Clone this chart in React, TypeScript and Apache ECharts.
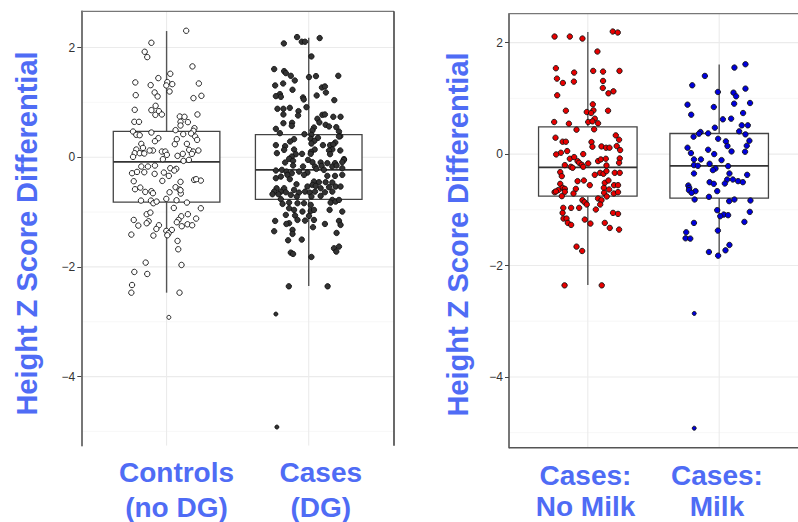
import React, { useEffect, useRef } from "react";
import * as echarts from "echarts";

// ---------- DATA ----------
// boxes: [category, lowerWhisker, Q1, median, Q3, upperWhisker]
const leftBoxes = [
  [1, -2.47, -0.82, -0.086, 0.47, 2.3],
  [2, -2.35, -0.77, -0.23, 0.41, 2.18],
];
const rightBoxes = [
  [1, -2.35, -0.755, -0.24, 0.49, 2.19],
  [2, -1.82, -0.79, -0.21, 0.37, 1.61],
];
const yTicks = [-4, -2, 0, 2];
const yMinor = [-5, -3, -1, 1];
const categories = [1, 2];
const leftLabels = ["Controls\n(no DG)", "Cases\n(DG)"];
const rightLabels = ["Cases:\nNo Milk", "Cases:\nMilk"];
const yTitle = "Height Z Score Differential";

// jittered points: [jitter offset from category, value]
const controlsPts = [
  [0.138, 2.305], [-0.107, 2.086], [-0.154, 1.922], [-0.136, 1.825], [0.182, 1.655], [0.026, 1.521],
  [-0.058, 1.442], [-0.22, 1.363], [0.005, 1.369], [0.04, 1.332], [-0.002, 1.308], [-0.112, 1.314],
  [0.227, 1.344], [0.021, 1.198], [-0.084, 1.18], [-0.063, 1.107], [-0.217, 1.131], [0.245, 1.119],
  [0.189, 1.077], [-0.077, 0.937], [-0.224, 0.864], [-0.107, 0.858], [-0.054, 0.839], [-0.079, 0.772],
  [-0.033, 0.779], [0.217, 0.779], [0.093, 0.742], [0.126, 0.736], [-0.227, 0.645], [-0.194, 0.645],
  [0.098, 0.645], [0.15, 0.639], [0.098, 0.578], [0.196, 0.529], [0.063, 0.493], [-0.236, 0.468],
  [-0.107, 0.45], [0.189, 0.481], [-0.213, 0.408], [-0.189, 0.401], [0.117, 0.42], [0.173, 0.432],
  [0.201, 0.377], [0.215, 0.316], [-0.058, 0.347], [-0.082, 0.292], [0.072, 0.328], [0.058, 0.237],
  [0.143, 0.243], [-0.178, 0.243], [-0.166, 0.17], [-0.213, 0.14], [-0.096, 0.122], [-0.119, 0.122],
  [-0.033, 0.103], [-0.009, 0.103], [0.159, 0.134], [0.187, 0.103], [0.224, 0.122], [-0.224, 0.073],
  [-0.189, 0.073], [-0.157, 0.067], [0.114, 0.061], [0.178, 0.061], [0.002, 0.043], [-0.236, 0.006],
  [0.077, 0.024], [-0.026, -0.036], [0.119, -0.067], [0.157, -0.049], [-0.131, -0.17], [-0.178, -0.17],
  [-0.082, -0.152], [0.026, -0.201], [0.068, -0.213], [-0.243, -0.292], [-0.208, -0.268], [-0.157, -0.274],
  [-0.084, -0.304], [-0.019, -0.28], [0.016, -0.341], [0.054, -0.243], [-0.231, -0.438], [-0.03, -0.432],
  [0.098, -0.45], [0.194, -0.414], [0.241, -0.426], [0.208, -0.401], [-0.185, -0.554], [-0.222, -0.584],
  [0.063, -0.547], [0.091, -0.59], [-0.15, -0.633], [-0.107, -0.62], [-0.096, -0.657], [0.021, -0.639],
  [0.1, -0.663], [0.098, -0.602], [-0.18, -0.791], [-0.11, -0.791], [-0.093, -0.839], [-0.07, -0.809],
  [-0.002, -0.76], [0.07, -0.785], [0.143, -0.827], [0.051, -0.925], [0.241, -0.931], [-0.14, -1.04],
  [-0.114, -1.01], [0.103, -1.077], [0.15, -1.04], [0.208, -1.119], [-0.231, -1.144], [-0.126, -1.168],
  [0.084, -1.144], [0.072, -1.186], [-0.14, -1.204], [-0.199, -1.247], [-0.054, -1.241], [0.147, -1.223],
  [0.18, -1.241], [0.107, -1.259], [-0.072, -1.308], [-0.002, -1.344], [0.037, -1.326], [0.014, -1.387],
  [0.005, -1.423], [-0.248, -1.411], [-0.093, -1.429], [0.077, -1.527], [0.082, -1.679], [-0.147, -1.922],
  [0.105, -1.965], [-0.227, -2.092], [-0.136, -2.129], [-0.243, -2.33], [-0.248, -2.47], [0.091, -2.47],
];
const controlsLow = [[0.016, -2.92]];

const casesDGPts = [
  [-0.082, 2.19], [0.077, 2.172], [-0.049, 2.105], [-0.026, 2.105], [-0.175, 2.074], [0.019, 1.837],
  [-0.243, 1.606], [-0.173, 1.569], [-0.161, 1.533], [-0.126, 1.484], [0.002, 1.46], [0.051, 1.478],
  [0.208, 1.484], [-0.098, 1.399], [-0.18, 1.344], [-0.236, 1.308], [0.093, 1.271], [0.114, 1.29],
  [-0.114, 1.229], [0.121, 1.18], [-0.203, 1.15], [-0.231, 1.113], [-0.196, 1.101], [0.056, 1.125],
  [-0.04, 1.089], [-0.035, 1.052], [0.18, 1.04], [-0.016, 0.912], [-0.22, 0.882], [-0.178, 0.882],
  [-0.133, 0.9], [-0.072, 0.839], [-0.178, 0.779], [-0.075, 0.76], [0.096, 0.772], [0.114, 0.779],
  [0.173, 0.736], [0.224, 0.736], [0.061, 0.7], [-0.178, 0.62], [-0.117, 0.627], [-0.119, 0.572],
  [0.075, 0.633], [0.119, 0.59], [0.143, 0.56], [0.194, 0.547], [0.037, 0.541], [-0.231, 0.517],
  [0.026, 0.487], [0.213, 0.468], [-0.203, 0.438], [-0.03, 0.42], [0.019, 0.408], [0.222, 0.383],
  [0.213, 0.377], [0.065, 0.353], [0.014, 0.335], [-0.103, 0.328], [-0.131, 0.286], [0.04, 0.298],
  [0.187, 0.268], [0.019, 0.249], [-0.231, 0.219], [-0.166, 0.201], [0.1, 0.219], [0.15, 0.219],
  [0.173, 0.231], [0.166, 0.14], [-0.173, 0.134], [-0.103, 0.14], [0.042, 0.14], [0.222, 0.122],
  [0.143, 0.122], [0.016, 0.097], [-0.224, 0.073], [-0.091, 0.055], [-0.047, 0.061], [0.014, 0.061],
  [0.15, 0.055], [-0.119, 0.012], [0.248, -0.036], [-0.138, -0.03], [-0.005, -0.049], [0.248, -0.049],
  [-0.166, -0.097], [-0.11, -0.067], [0.026, -0.091], [0.084, -0.097], [0.131, -0.109], [0.185, -0.109],
  [0.236, -0.091], [-0.11, -0.152], [-0.04, -0.17], [0.044, -0.17], [0.091, -0.158], [0.166, -0.17],
  [0.196, -0.152], [-0.231, -0.243], [-0.189, -0.231], [-0.157, -0.262], [-0.119, -0.292], [-0.068, -0.262],
  [-0.009, -0.28], [0.054, -0.213], [0.107, -0.231], [0.236, -0.201], [-0.15, -0.322], [-0.196, -0.353],
  [-0.033, -0.322], [0.131, -0.341], [0.185, -0.341], [0.236, -0.322], [-0.133, -0.401], [-0.231, -0.383],
  [0.037, -0.444], [0.072, -0.456], [0.119, -0.456], [0.166, -0.462], [-0.086, -0.493], [0.026, -0.505],
  [-0.226, -0.566], [-0.173, -0.566], [-0.009, -0.535], [0.049, -0.523], [0.084, -0.566], [0.143, -0.547],
  [0.189, -0.535], [0.224, -0.535], [-0.243, -0.627], [-0.196, -0.627], [-0.161, -0.639], [-0.103, -0.596],
  [-0.068, -0.645], [-0.026, -0.627], [0.007, -0.645], [0.044, -0.627], [0.114, -0.639], [0.166, -0.627],
  [-0.255, -0.675], [-0.213, -0.675], [-0.126, -0.687], [-0.084, -0.718], [0.019, -0.718], [0.084, -0.706],
  [-0.196, -0.766], [0.166, -0.779], [0.154, -0.827], [0.189, -0.809], [0.213, -0.779], [-0.184, -0.852],
  [-0.138, -0.827], [-0.079, -0.839], [-0.033, -0.839], [0.014, -0.87], [-0.138, -0.931], [-0.103, -0.961],
  [0.147, -0.961], [0.014, -0.979], [-0.044, -0.991], [0.037, -0.961], [-0.161, -1.052], [-0.096, -1.064],
  [0.002, -1.071], [0.236, -0.991], [-0.079, -1.144], [-0.026, -1.156], [0.037, -1.144], [-0.236, -1.162],
  [-0.138, -1.204], [0.213, -1.162], [-0.157, -1.217], [0.114, -1.217], [0.224, -1.235], [0.03, -1.277],
  [-0.114, -1.326], [-0.243, -1.35], [-0.114, -1.399], [0.196, -1.381], [-0.145, -1.515], [-0.049, -1.502],
  [0.178, -1.661], [0.213, -1.63], [0.194, -1.721], [-0.126, -1.74], [-0.11, -1.764], [0.019, -1.819],
  [-0.14, -2.354], [0.133, -2.354],
];
const casesDGLow = [[-0.231, -2.86], [-0.224, -4.92]];

const noMilkPts = [
  [-0.253, 2.11], [-0.137, 2.11], [-0.041, 2.074], [0.19, 2.2], [0.228, 2.182], [0.073, 1.841],
  [-0.243, 1.541], [-0.104, 1.463], [0.041, 1.493], [0.116, 1.481], [0.241, 1.493], [-0.235, 1.355],
  [-0.19, 1.277], [-0.106, 1.301], [0.116, 1.313], [0.114, 1.187], [0.195, 1.127], [0.157, 1.091],
  [-0.233, 1.055], [0.038, 0.893], [-0.167, 0.779], [0.043, 0.785], [0.154, 0.779], [-0.008, 0.755],
  [0.025, 0.737], [0.053, 0.636], [-0.256, 0.576], [-0.144, 0.546], [0.003, 0.576], [0.035, 0.588],
  [0.078, 0.552], [-0.086, 0.438], [0.048, 0.444], [-0.246, 0.294], [0.213, 0.336], [0.238, 0.258],
  [-0.192, 0.222], [-0.167, 0.222], [0.028, 0.216], [0.035, 0.132], [0.104, 0.138], [0.139, 0.114],
  [0.165, 0.114], [0.22, 0.144], [-0.157, 0.054], [-0.205, 0.024], [0.246, 0.072], [-0.241, -0.006],
  [-0.035, 0.0], [-0.137, -0.084], [-0.104, -0.054], [-0.078, -0.126], [-0.066, -0.156], [0.078, -0.126],
  [0.099, -0.096], [0.137, -0.084], [0.243, -0.078], [0.238, -0.156], [0.003, -0.168], [-0.175, -0.198],
  [-0.129, -0.228], [-0.116, -0.246], [-0.046, -0.192], [-0.035, -0.228], [0.142, -0.204], [-0.21, -0.324],
  [-0.198, -0.396], [0.053, -0.372], [0.094, -0.336], [0.119, -0.354], [0.142, -0.306], [0.205, -0.336],
  [0.243, -0.336], [-0.03, -0.474], [-0.078, -0.486], [0.015, -0.558], [0.129, -0.516], [0.157, -0.474],
  [-0.21, -0.534], [-0.192, -0.606], [-0.175, -0.624], [-0.225, -0.647], [-0.253, -0.683], [-0.243, -0.671],
  [-0.091, -0.624], [0.2, -0.558], [0.23, -0.558], [0.122, -0.606], [0.162, -0.635], [-0.175, -0.677],
  [-0.109, -0.707], [-0.198, -0.755], [0.124, -0.695], [0.198, -0.707], [0.23, -0.683], [0.144, -0.761],
  [0.078, -0.797], [0.104, -0.827], [-0.041, -0.827], [-0.025, -0.863], [-0.008, -0.905], [0.094, -0.905],
  [-0.187, -0.965], [-0.127, -0.965], [-0.066, -0.965], [0.061, -0.995], [-0.192, -1.055], [0.192, -1.055],
  [0.23, -1.073], [-0.185, -1.157], [-0.162, -1.157], [-0.023, -1.175], [-0.152, -1.235], [-0.127, -1.271],
  [0.02, -1.247], [0.129, -1.235], [0.167, -1.325], [0.238, -1.355], [-0.086, -1.661], [-0.043, -1.739],
  [-0.177, -2.356], [0.106, -2.356],
];

const milkPts = [
  [0.2, 1.613], [0.116, 1.553], [-0.109, 1.403], [-0.205, 1.235], [0.2, 1.175], [-0.01, 1.115],
  [0.109, 1.103], [0.129, 1.037], [-0.241, 0.887], [0.235, 0.917], [0.114, 0.905], [-0.041, 0.845],
  [-0.213, 0.707], [0.182, 0.737], [0.028, 0.624], [0.091, 0.636], [0.172, 0.516], [0.218, 0.516],
  [-0.033, 0.474], [0.152, 0.408], [-0.142, 0.396], [-0.154, 0.366], [-0.084, 0.372], [0.2, 0.354],
  [-0.195, 0.312], [-0.008, 0.276], [0.051, 0.228], [0.23, 0.24], [0.063, 0.144], [0.21, 0.15],
  [-0.241, 0.114], [-0.084, 0.078], [0.094, 0.048], [0.197, 0.042], [-0.215, 0.018], [-0.038, 0.0],
  [-0.192, -0.096], [-0.139, -0.096], [0.018, -0.108], [-0.192, -0.198], [-0.162, -0.21], [-0.073, -0.174],
  [-0.028, -0.258], [-0.048, -0.288], [0.068, -0.216], [-0.192, -0.348], [0.078, -0.348], [0.213, -0.372],
  [0.061, -0.456], [0.104, -0.456], [0.144, -0.486], [0.18, -0.504], [-0.073, -0.504], [-0.041, -0.534],
  [0.043, -0.528], [-0.235, -0.564], [-0.228, -0.606], [-0.23, -0.647], [-0.18, -0.665], [-0.21, -0.695],
  [-0.015, -0.665], [-0.078, -0.767], [-0.187, -0.815], [0.076, -0.845], [0.116, -0.815], [0.238, -0.833],
  [-0.015, -1.007], [0.233, -1.037], [0.035, -1.085], [0.068, -1.097], [0.008, -1.115], [-0.192, -1.235],
  [0.192, -1.217], [-0.01, -1.373], [-0.251, -1.403], [-0.256, -1.511], [-0.22, -1.517], [0.078, -1.631],
  [0.048, -1.727], [-0.078, -1.757], [-0.008, -1.823],
];
const milkLow = [[-0.19, -2.86], [-0.19, -4.92]];

// ---------- LAYOUT / STYLE ----------
const W = 798;
const H = 522;
const LG = { left: 81.3, top: 11.3, width: 312.7, height: 434.4 };
const RG = { left: 509, top: 13.7, width: 290, height: 434 };
const LY = [-5.26, 2.66];
const RY = [-5.27, 2.52];
const BLUE = "#4f6cf5";
const FONT = "'Liberation Sans', Arial, Helvetica, sans-serif";

const place = (cat: number, pts: number[][]) => pts.map((p) => [cat + p[0], p[1]]);

function gridSeries(idx: number) {
  const items: number[][] = [];
  yMinor.forEach((v) => items.push([0, v, 0]));
  yTicks.forEach((v) => items.push([0, v, 1]));
  categories.forEach((c) => items.push([1, c, 1]));
  return {
    type: "custom",
    xAxisIndex: idx,
    yAxisIndex: idx,
    silent: true,
    z: 0,
    clip: true,
    encode: { x: -1, y: -1 },
    data: items,
    renderItem: (params: any, api: any) => {
      const cs = params.coordSys;
      const kind = api.value(0);
      const v = api.value(1);
      const major = api.value(2) === 1;
      const color = major ? "#ebebeb" : "#f3f3f3";
      const lw = major ? 1.1 : 0.7;
      if (kind === 0) {
        const y = api.coord([1, v])[1];
        return {
          type: "line",
          shape: { x1: cs.x, y1: y, x2: cs.x + cs.width, y2: y },
          style: { stroke: color, lineWidth: lw },
        };
      }
      const x = api.coord([v, 0])[0];
      return {
        type: "line",
        shape: { x1: x, y1: cs.y, x2: x, y2: cs.y + cs.height },
        style: { stroke: color, lineWidth: lw },
      };
    },
  };
}

function boxSeries(idx: number, boxes: number[][]) {
  return {
    type: "custom",
    xAxisIndex: idx,
    yAxisIndex: idx,
    silent: true,
    z: 2,
    encode: { x: 0, y: [1, 2, 3, 4, 5] },
    data: boxes,
    renderItem: (params: any, api: any) => {
      const x = api.value(0);
      const lo = api.value(1), q1 = api.value(2), md = api.value(3), q3 = api.value(4), hi = api.value(5);
      const pLo = api.coord([x, lo]);
      const pHi = api.coord([x, hi]);
      const a = api.coord([x - 0.375, q3]);
      const b = api.coord([x + 0.375, q1]);
      const m = api.coord([x, md])[1];
      return {
        type: "group",
        children: [
          { type: "line", shape: { x1: pLo[0], y1: pLo[1], x2: pLo[0], y2: b[1] }, style: { stroke: "#555", lineWidth: 1.4 } },
          { type: "line", shape: { x1: pHi[0], y1: pHi[1], x2: pHi[0], y2: a[1] }, style: { stroke: "#555", lineWidth: 1.4 } },
          { type: "rect", shape: { x: a[0], y: a[1], width: b[0] - a[0], height: b[1] - a[1] }, style: { fill: "#fff", stroke: "#444", lineWidth: 1.3 } },
          { type: "line", shape: { x1: a[0], y1: m, x2: b[0], y2: m }, style: { stroke: "#333", lineWidth: 1.8 } },
        ],
      };
    },
  };
}

function pts(idx: number, data: number[][], fill: string, size = 5.4) {
  return {
    type: "scatter",
    xAxisIndex: idx,
    yAxisIndex: idx,
    silent: true,
    z: 3,
    symbol: "circle",
    symbolSize: size,
    data,
    itemStyle: { color: fill, borderColor: "#111", borderWidth: 0.9, opacity: 1 },
  };
}

function yAxis(idx: number, range: number[]) {
  return {
    type: "value",
    gridIndex: idx,
    min: range[0],
    max: range[1],
    axisLine: { show: true, lineStyle: { color: "#555", width: 1.6 } },
    axisTick: { show: true, customValues: yTicks, length: 4, lineStyle: { color: "#444", width: 1 } },
    axisLabel: {
      show: true,
      customValues: yTicks,
      margin: 6,
      color: "#333",
      fontSize: 12,
      fontFamily: FONT,
      formatter: (v: number) => (v < 0 ? "\u2212" + Math.abs(v) : String(v)),
    },
    splitLine: { show: false },
  };
}

function xAxis(idx: number) {
  return {
    type: "value",
    gridIndex: idx,
    min: 0.4,
    max: 2.6,
    axisLine: { show: false },
    axisTick: { show: false },
    axisLabel: { show: false },
    splitLine: { show: false },
  };
}

function catLabel(text: string, x: number, y: number, lh: number) {
  return {
    type: "text",
    x,
    y,
    silent: true,
    style: {
      text,
      fill: BLUE,
      font: `bold 28px ${FONT}`,
      textAlign: "center",
      textVerticalAlign: "middle",
      lineHeight: lh,
    },
  };
}

function yTitleText(x: number, y: number) {
  return {
    type: "text",
    x,
    y,
    rotation: Math.PI / 2,
    silent: true,
    style: {
      text: yTitle,
      fill: BLUE,
      font: `bold 29px ${FONT}`,
      textAlign: "center",
      textVerticalAlign: "middle",
    },
  };
}

function line(x1: number, y1: number, x2: number, y2: number, color: string, w: number) {
  return { type: "line", silent: true, z: 10, shape: { x1, y1, x2, y2 }, style: { stroke: color, lineWidth: w } };
}

export default function App() {
  const ref = useRef<HTMLDivElement>(null);
  useEffect(() => {
    if (!ref.current) return;
    const chart = echarts.init(ref.current, undefined, { renderer: "svg" });
    const option: any = {
      animation: false,
      backgroundColor: "#fff",
      grid: [
        { left: LG.left, top: LG.top, width: LG.width, height: LG.height, show: false },
        { left: RG.left, top: RG.top, width: RG.width, height: RG.height, show: false },
      ],
      xAxis: [xAxis(0), xAxis(1)],
      yAxis: [yAxis(0, LY), yAxis(1, RY)],
      series: [
        gridSeries(0),
        gridSeries(1),
        boxSeries(0, leftBoxes),
        boxSeries(1, rightBoxes),
        pts(0, place(1, controlsPts), "#ffffff"),
        pts(0, place(1, controlsLow), "#ffffff", 4),
        pts(0, place(2, casesDGPts), "#333333"),
        pts(0, place(2, casesDGLow), "#333333", 4),
        pts(1, place(1, noMilkPts), "#e80000"),
        pts(1, place(2, milkPts), "#0000dd"),
        pts(1, place(2, milkLow), "#0000dd", 4),
      ],
      graphic: [
        // left panel frame (top, right)
        line(LG.left, LG.top, LG.left + LG.width, LG.top, "#777", 1.2),
        line(LG.left + LG.width, LG.top, LG.left + LG.width, LG.top + LG.height, "#444", 1.6),
        // right panel frame (top, bottom)
        line(RG.left, RG.top, RG.left + RG.width, RG.top, "#777", 1.2),
        line(RG.left, RG.top + RG.height, RG.left + RG.width, RG.top + RG.height, "#555", 1.6),
        yTitleText(27, 233.5),
        yTitleText(457.5, 234.5),
        catLabel(leftLabels[0], 176.5, 490, 35),
        catLabel(leftLabels[1], 320.8, 490, 35),
        catLabel(rightLabels[0], 585.5, 490.5, 31),
        catLabel(rightLabels[1], 717, 490.5, 31),
      ],
    };
    chart.setOption(option);
    return () => chart.dispose();
  }, []);
  return (
    <div
      ref={ref}
      style={{ position: "fixed", left: 0, top: 0, width: W, height: H, background: "#fff" }}
    />
  );
}
